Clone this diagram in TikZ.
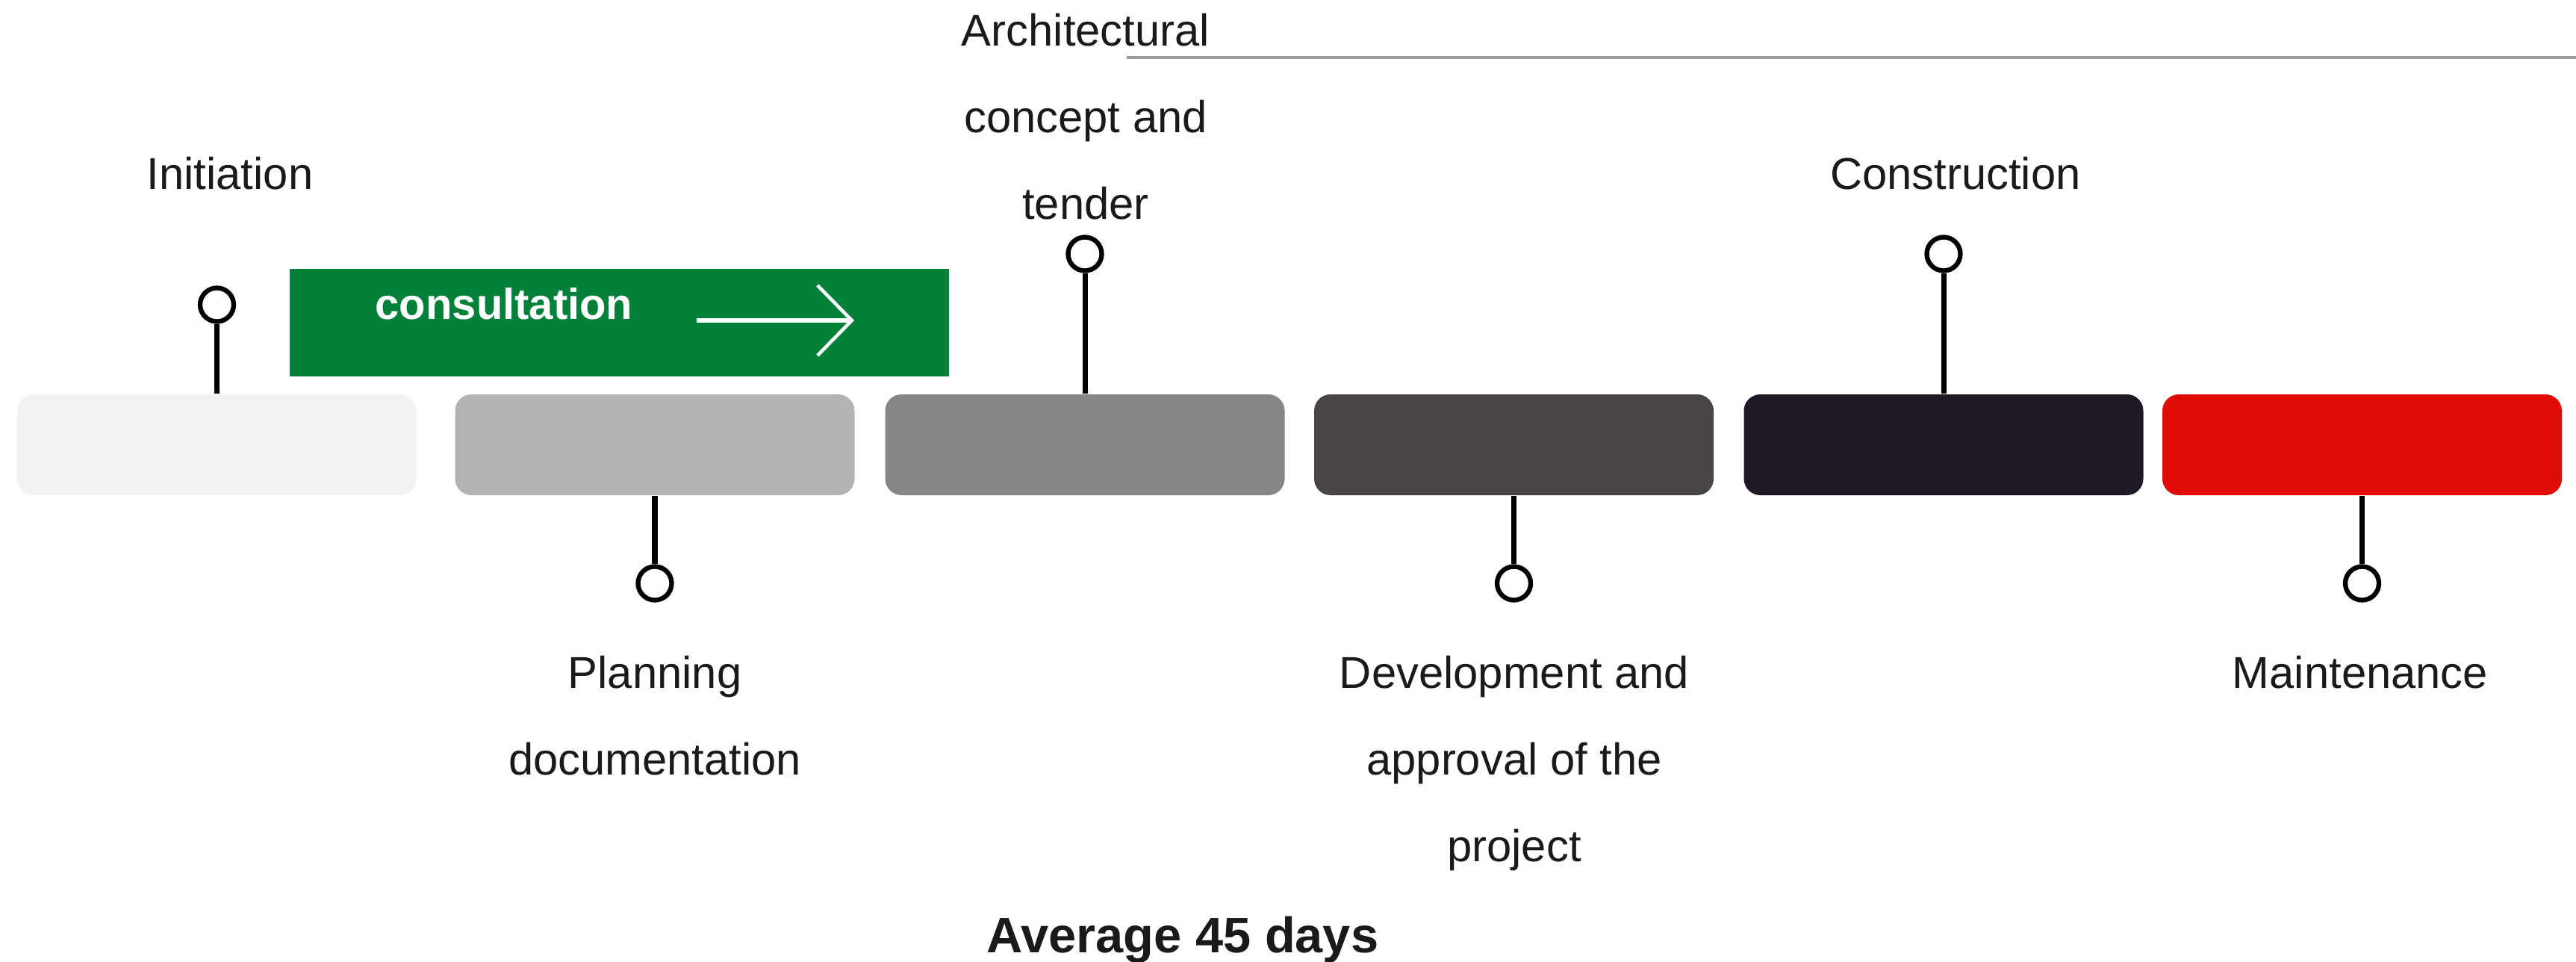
\documentclass[tikz,border=0pt]{standalone}
\usepackage{fontspec}
\setmainfont{Liberation Sans}
\usetikzlibrary{calc,arrows.meta}

\definecolor{inkA}{HTML}{1A1A1A}
\definecolor{phaseA}{HTML}{F2F2F2}
\definecolor{phaseB}{HTML}{B4B3B1}
\definecolor{phaseC}{HTML}{878586}
\definecolor{phaseD}{HTML}{494546}
\definecolor{phaseE}{HTML}{1E1924}
\definecolor{phaseF}{HTML}{E00B07}
\definecolor{consultgreen}{HTML}{008039}
\definecolor{rulegray}{HTML}{A19D99}

\tikzset{
  phase/.style={rectangle,rounded corners=0.22cm,minimum width=5.35cm,minimum height=1.35cm,inner sep=0pt},
  pinhead/.style={circle,draw=black,line width=1.8pt,fill=white,minimum size=0.45cm,inner sep=0pt},
  stem/.style={line width=2pt,black},
  lbl/.style={anchor=base,align=center,text=inkA,inner sep=0pt,font=\fontsize{17}{33}\selectfont}
}

\begin{document}
\begin{tikzpicture}
          \useasboundingbox (0,0) rectangle (34.5,-12.87);
          %rule at the top
          \coordinate (R1) at (15.09,-0.77);
          \coordinate (R2) at (34.5,-0.77);
          \draw[rulegray,line width=0.9pt] (R1) -- (R2);

          %phases
          \node[phase,fill=phaseA] (initiation) at (2.905,-5.955) {};
          \node[phase,fill=phaseB] (planning) at (8.77,-5.955) {};
          \node[phase,fill=phaseC] (concept) at (14.53,-5.955) {};
          \node[phase,fill=phaseD] (approval) at (20.275,-5.955) {};
          \node[phase,fill=phaseE] (construction) at (26.03,-5.955) {};
          \node[phase,fill=phaseF] (maintenance) at (31.635,-5.955) {};

          %consultation band
          \node[rectangle,fill=consultgreen,minimum width=8.83cm,minimum height=1.44cm,inner sep=0pt,anchor=north west] (consult) at (3.87,-3.59) {};
          \node[anchor=base,text=white,inner sep=0pt,font=\fontsize{16.5}{20}\selectfont\bfseries] (consulttext) at (6.75,-4.27) {consultation};
          \coordinate (C1) at (9.33,-4.29);
          \coordinate (C2) at (11.44,-4.29);
          \draw[white,line width=1.5pt,-{Straight Barb[length=0.46cm,width=0.94cm,line width=1.3pt]}] (C1) -- (C2);

          %pins above
          \node[pinhead] (pinA) at (2.905,-4.08) {};
          \node[pinhead] (pinC) at (14.53,-3.40) {};
          \node[pinhead] (pinE) at (26.03,-3.40) {};
          \draw[stem] (pinA) -- (initiation);
          \draw[stem] (pinC) -- (concept);
          \draw[stem] (pinE) -- (construction);
          %pins below
          \node[pinhead] (pinB) at (8.77,-7.81) {};
          \node[pinhead] (pinD) at (20.275,-7.81) {};
          \node[pinhead] (pinF) at (31.635,-7.81) {};
          \draw[stem] (pinB) -- (planning);
          \draw[stem] (pinD) -- (approval);
          \draw[stem] (pinF) -- (maintenance);

          %labels (base = last line)
          \node[lbl] (lblA) at (3.08,-2.53) {Initiation};
          \node[lbl] (lblC) at (14.54,-2.93) {Architectural\\concept and\\tender};
          \node[lbl] (lblE) at (26.19,-2.53) {Construction};
          \node[lbl] (lblB) at (8.77,-10.37) {Planning\\documentation};
          \node[lbl] (lblD) at (20.28,-11.53) {Development and\\approval of the\\project};
          \node[lbl] (lblF) at (31.61,-9.21) {Maintenance};

          %duration
          \node[anchor=base,text=inkA,inner sep=0pt,font=\fontsize{19}{23}\selectfont\bfseries] (avg) at (15.84,-12.75) {Average 45 days};
\end{tikzpicture}
\end{document}
